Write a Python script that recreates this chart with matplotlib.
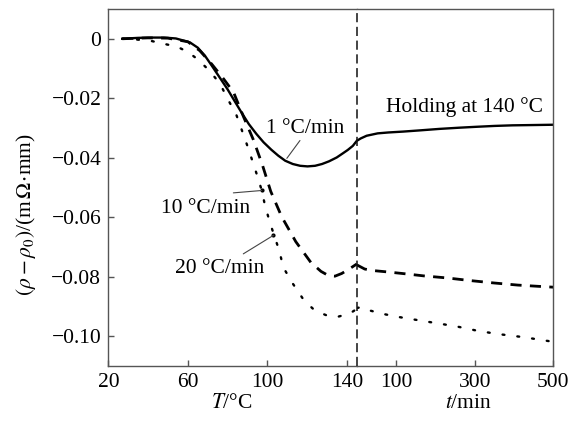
import matplotlib
matplotlib.use("Agg")
import matplotlib.pyplot as plt

plt.rcParams['font.family'] = ['Liberation Serif', 'DejaVu Serif']
plt.rcParams['mathtext.fontset'] = 'stix'

# ---- data: heating part (temperature, deg C) ----
T_1 = [27, 35, 42, 48, 54, 61, 65, 68.6, 72, 76, 80, 83.4, 87, 90.7, 94.5, 98.1, 102,
       105.5, 109, 112.8, 116.5, 120.2, 124, 127.5, 131, 134.9, 138, 140.4, 143, 145]
rho_1 = [0, 0.0003, 0.0004, 0.0004, 0.0001, -0.0012, -0.003, -0.0057, -0.009, -0.013,
         -0.017, -0.0208, -0.0248, -0.0287, -0.032, -0.0348, -0.0373, -0.0393, -0.041,
         -0.0421, -0.0427, -0.0429, -0.0427, -0.0421, -0.0412, -0.0399, -0.0385, -0.0374,
         -0.0360, -0.0343]

T_10 = [27, 40, 50, 60, 66, 72, 78, 83, 88, 93, 97.6, 101.7, 107.2, 114.3, 121.9, 127,
        131, 134, 137.4, 141.6, 145]
rho_10 = [0, 0.0003, 0.0002, -0.001, -0.004, -0.0085, -0.0135, -0.018, -0.0262, -0.034,
          -0.0426, -0.0513, -0.0598, -0.0682, -0.0752, -0.0782, -0.0797, -0.0798,
          -0.0789, -0.0772, -0.0757]

T_20 = [27, 35, 42, 48.6, 54.4, 60.2, 65.3, 70.8, 76.2, 80.4, 84.2, 87.1, 89.9, 92.1,
        94.6, 97.2, 98.8, 101, 103.4, 106, 108, 112.3, 118.5, 124, 129.9, 135.7, 141.6, 145]
rho_20 = [0, -0.0003, -0.0008, -0.0018, -0.0026, -0.0045, -0.0071, -0.0107, -0.0151,
          -0.0207, -0.0252, -0.0306, -0.0359, -0.0403, -0.0454, -0.051, -0.056, -0.0611,
          -0.0661, -0.0712, -0.0768, -0.0818, -0.088, -0.0914, -0.093, -0.0934, -0.0923,
          -0.0908]

# ---- data: holding at 140 deg C (time, min) ----
t_1 = [0, 10, 25, 53, 80, 118, 160, 210, 260, 303, 350, 396, 450, 500]
hold_1 = [-0.0343, -0.0335, -0.0326, -0.0318, -0.0315, -0.0312, -0.0308, -0.0303,
          -0.0299, -0.0296, -0.0293, -0.0291, -0.029, -0.0289]

t_10 = [0, 20, 40, 80, 130, 170, 230, 290, 350, 410, 460, 500]
hold_10 = [-0.0760, -0.0774, -0.0779, -0.0784, -0.0791, -0.0797, -0.0804, -0.0813,
           -0.0821, -0.0828, -0.0832, -0.0835]

t_20 = [0, 12, 29, 67, 110, 161, 203, 254, 305, 356, 424, 492, 500]
hold_20 = [-0.0905, -0.0902, -0.0912, -0.0925, -0.0936, -0.0947, -0.0956, -0.0967,
           -0.0981, -0.0992, -0.1003, -0.1017, -0.1018]

T_ticks = [20, 60, 100, 140]
t_ticks = [100, 300, 500]
y_ticks = [0, -0.02, -0.04, -0.06, -0.08, -0.10]
y_ticklabels = ['0', '\u22120.02', '\u22120.04', '\u22120.06', '\u22120.08', '\u22120.10']

fig = plt.figure(figsize=(5.74, 4.21), dpi=100)
left, bottom, width, height = 0.1887, 0.1306, 0.7753, 0.848
frac = 0.5584
axL = fig.add_axes([left, bottom, width * frac, height])
axR = fig.add_axes([left + width * frac, bottom, width * (1 - frac), height], sharey=axL)

spine_col = '#555555'
fs = 15.5

sty_solid = dict(color='black', lw=1.7, linestyle='-')
sty_dash = dict(color='black', lw=2.0, linestyle=(0, (4, 3)))
sty_dot = dict(color='black', lw=1.7, linestyle=(0, (0.8, 5.5)), dash_capstyle='round')

axL.plot(T_1, rho_1, **sty_solid)
axL.plot(T_10, rho_10, **sty_dash)
axL.plot(T_20, rho_20, **sty_dot)
axR.plot(t_1, hold_1, **sty_solid)
axR.plot(t_10, hold_10, **sty_dash)
axR.plot(t_20, hold_20, **sty_dot)

axL.set_xlim(20, 145)
axR.set_xlim(0, 500)
axL.set_ylim(-0.11, 0.01)

for ax in (axL, axR):
    for s in ax.spines.values():
        s.set_color(spine_col)
        s.set_linewidth(1.0)
    ax.tick_params(direction='in', length=4, width=1.0, color=spine_col,
                   labelsize=fs, pad=5, top=False, right=False)

axL.spines['right'].set_visible(False)
axR.spines['left'].set_visible(False)
axR.tick_params(left=False, labelleft=False)

# boundary between heating and holding: dashed vertical line
axR.axvline(0, color='#111111', lw=1.1, linestyle=(0, (6, 3)), zorder=5, clip_on=False)

axL.set_xticks(T_ticks)
axL.set_xticklabels([str(v) for v in T_ticks])
axR.set_xticks(t_ticks)
axR.set_xticklabels([str(v) for v in t_ticks])
axL.set_yticks(y_ticks)
axL.set_yticklabels(y_ticklabels)

# axis labels
fig.text(232 / 574, 1 - 404 / 421, r'$T$/°C', ha='center', va='center', fontsize=fs)
fig.text(468 / 574, 1 - 404 / 421, r'$t$/min', ha='center', va='center', fontsize=fs)
fig.text(26 / 574, 1 - 215 / 421, r'$(\rho-\rho_0)$/(m$\,\Omega\!\cdot\!$mm)',
         rotation=90, ha='center', va='center', fontsize=fs)

# annotations
lead = dict(arrowstyle='-', color='#444444', lw=0.8, shrinkA=0, shrinkB=0)
axL.text(119, -0.0300, '1 °C/min', ha='center', va='center', fontsize=fs)
axL.annotate('', xy=(109.8, -0.0402), xytext=(116.4, -0.0342), arrowprops=lead)

axL.text(68.7, -0.0570, '10 °C/min', ha='center', va='center', fontsize=fs)
axL.annotate('', xy=(97.2, -0.0510), xytext=(82.9, -0.0518), arrowprops=lead)
axL.plot([97.2], [-0.0510], marker='o', ms=2, color='black')

axL.text(76.2, -0.0772, '20 °C/min', ha='center', va='center', fontsize=fs)
axL.annotate('', xy=(103.0, -0.0661), xytext=(87.9, -0.0723), arrowprops=lead)
axL.plot([103.0], [-0.0661], marker='o', ms=2, color='black')

axR.text(273, -0.0231, 'Holding at 140 °C', ha='center', va='center', fontsize=fs)

fig.savefig('out.png', dpi=100)
